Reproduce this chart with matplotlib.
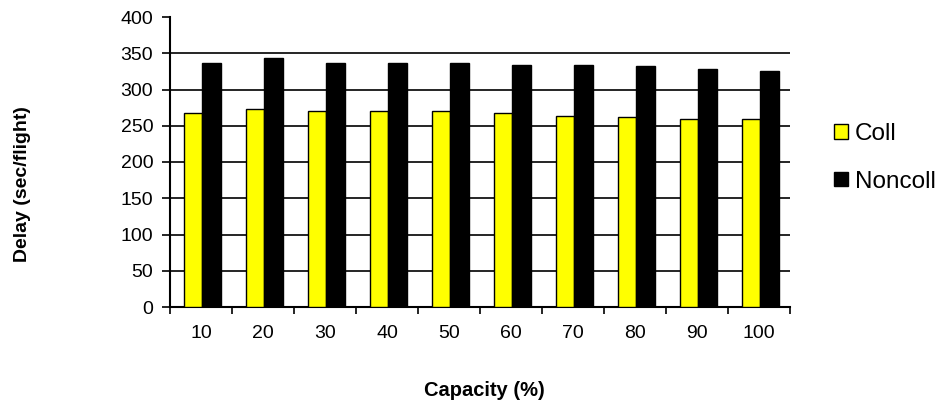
import numpy as np
import matplotlib.pyplot as plt
from matplotlib.patches import Patch

plt.rcParams['font.family'] = ['Liberation Sans', 'DejaVu Sans']

capacity = ['10', '20', '30', '40', '50', '60', '70', '80', '90', '100']
coll = [268, 273, 270, 270, 270, 268, 264, 262, 260, 260]
noncoll = [337, 343, 337, 337, 337, 334, 334, 332, 328, 326]

fig = plt.figure(figsize=(9.43, 4.03), dpi=100)
ax = fig.add_axes([170 / 943, 1 - 307 / 403, 620 / 943, 290 / 403])

x = np.arange(len(capacity))
width = 0.3
ax.bar(x + 0.5 - width / 2 + 0.02, coll, width, color='#ffff00', edgecolor='black', linewidth=1, zorder=3)
ax.bar(x + 0.5 + width / 2 + 0.02, noncoll, width, color='black', edgecolor='black', linewidth=1, zorder=3)

ax.set_xlim(0, len(capacity))
ax.set_ylim(0, 400)
ax.set_yticks(range(0, 401, 50))
ax.set_xticks(np.arange(len(capacity) + 1))
ax.set_xticklabels([])
ax.set_xticks(x + 0.5, capacity, minor=True)
ax.tick_params(axis='x', which='minor', length=0, pad=13, labelsize=14)
ax.tick_params(axis='x', which='major', direction='out', length=5, width=1.2)
ax.tick_params(axis='y', direction='out', length=6, width=1.2, labelsize=14, pad=6)

for v in range(50, 400, 50):
    ax.axhline(v, color='black', linewidth=1.2, zorder=1)

for s in ['top', 'right']:
    ax.spines[s].set_visible(False)
for s in ['left', 'bottom']:
    ax.spines[s].set_linewidth(1.5)

fig.text(484 / 943, 1 - 390 / 403, 'Capacity (%)', fontweight='bold', fontsize=14.5,
         ha='center', va='center')
fig.text(23 / 943, 1 - 184 / 403, 'Delay (sec/flight)', rotation=90, fontweight='bold',
         fontsize=14, ha='center', va='center')

handles = [Patch(facecolor='#ffff00', edgecolor='black'), Patch(facecolor='black', edgecolor='black')]
fig.legend(handles, ['Coll', 'Noncoll'], loc='center left', bbox_to_anchor=(822 / 943, 1 - 158 / 403),
           frameon=False, fontsize=17.5, handlelength=0.55, handleheight=0.55, handletextpad=0.3,
           labelspacing=1.05, borderpad=0)

fig.savefig('out.png', dpi=100)
